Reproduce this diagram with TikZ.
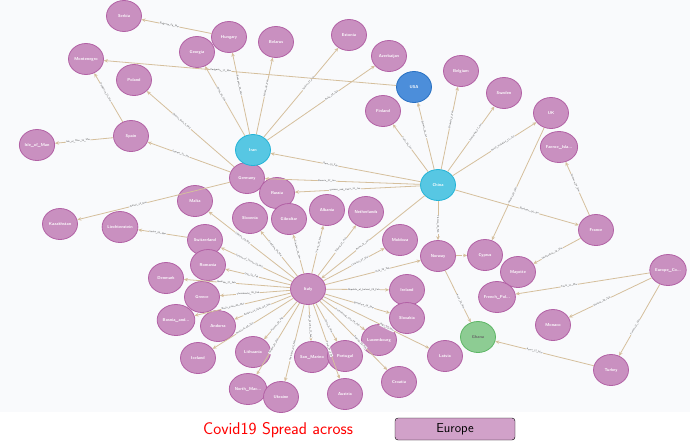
\documentclass[tikz,border=0pt]{standalone}
\usepackage{tikz}
\usetikzlibrary{shapes.geometric, arrows.meta}
\definecolor{cpink}{HTML}{C990C0}
\definecolor{cpinkb}{HTML}{B261A5}
\definecolor{ccyan}{HTML}{57C7E3}
\definecolor{ccyanb}{HTML}{23B3D7}
\definecolor{cblue}{HTML}{4C8EDA}
\definecolor{cblueb}{HTML}{2870C2}
\definecolor{cgreen}{HTML}{8DCC93}
\definecolor{cgreenb}{HTML}{5DB665}
\definecolor{cedge}{HTML}{D5BF9C}
\definecolor{cbg}{HTML}{F9FAFC}
\newcommand{\cut}{.\kern0pt.\kern0pt.}
\tikzset{
  country/.style={ellipse, draw=cpinkb, fill=cpink, line width=0.8pt, minimum width=35pt, minimum height=31pt, inner sep=0pt, text=white, font=\sffamily\bfseries\fontsize{4.2}{5}\selectfont},
  hub/.style={country, draw=ccyanb, fill=ccyan},
  usa/.style={country, draw=cblueb, fill=cblue},
  ghana/.style={country, draw=cgreenb, fill=cgreen, text=black!60},
  spread/.style={draw=cedge, line width=0.8pt, -{Stealth[length=4pt,width=3.5pt]}},
  elabel/.style={sloped, pos=0.6, fill=cbg, inner sep=0.4pt, text=black!70, font=\sffamily\fontsize{2.4}{3}\selectfont},
}
\begin{document}
\begin{tikzpicture}[x=1pt, y=-1pt]
  \fill[cbg] (0,0) rectangle (690,412);
  \fill[white] (0,412) rectangle (690,445);
  \useasboundingbox (0,0) rectangle (690,445);
  % countries
  \foreach \n/\x/\y/\t in {Serbia/124/16/Serbia, Hungary/229/37/Hungary, Belarus/276/42/Belarus,
      Estonia/349/35/Estonia, Azerbaijan/389/56/Azerbaijan, Georgia/197/52/Georgia,
      Montenegro/86/59/Montenegro, Poland/134/80/Poland, Spain/131/136/Spain,
      IsleofMan/37/145/Isle\_of\_Man, Germany/247/178/Germany, Russia/277/193/Russia,
      Malta/195/201/Malta, Belgium/461/71/Belgium, Sweden/504/93/Sweden, Finland/383/111/Finland,
      UK/551/113/UK, Faeroe/559/147/Faeroe\_Isla\cut, France/596/230/France, Cyprus/485/255/Cyprus,
      Mayotte/518/272/Mayotte, Norway/438/256/Norway, EuropeCo/668/270/Europe\_Co\cut,
      FrenchPol/497/297/French\_Pol\cut, Monaco/553/325/Monaco, Turkey/611/370/Turkey,
      Kazakhstan/60/224/Kazakhstan, Liechtenstein/120/227/Liechtenstein, Switzerland/205/240/Switzerland,
      Slovenia/250/218/Slovenia, Gibraltar/289/219/Gibraltar, Albania/327/210/Albania,
      Netherlands/366/212/Netherlands, Moldova/400/240/Moldova, Romania/208/265/Romania,
      Denmark/166/278/Denmark, Greece/202/297/Greece, Bosnia/176/320/Bosnia\_and\cut,
      Andorra/218/326/Andorra, Iceland/198/358/Iceland, Lithuania/253/352/Lithuania,
      SanMarino/312/357/San\_Marino, Portugal/345/356/Portugal, Luxembourg/379/340/Luxembourg,
      Croatia/399/382/Croatia, Latvia/445/356/Latvia, Ireland/407/290/Ireland,
      Slovakia/407/318/Slovakia, NorthMac/248/389/North\_Mac\cut, Ukraine/281/397/Ukraine,
      Austria/345/394/Austria, Italy/308/289/Italy}
    \node[country] (\n) at (\x,\y) {\t};
  \node[hub] (Iran) at (253,150) {Iran};
  \node[hub] (China) at (438,185) {China};
  \node[usa] (USA) at (414,87) {USA};
  \node[ghana] (Ghana) at (478,337) {Ghana};
  % spread
  \foreach \a/\b/\l in {Hungary/Serbia/Belgrade\_06\_Mar, Iran/Georgia/Tbilisi\_26\_Feb,
      Iran/Hungary/Budapest\_04\_Mar, Iran/Belarus/Minsk\_28\_Feb, Iran/Estonia/Tallinn\_27\_Feb,
      Iran/Azerbaijan/Baku\_28\_Feb, USA/Montenegro/Podgorica\_17\_Mar,
      Germany/Poland/Zielona\_Gora\_4\_Mar, Germany/Spain/Gomera\_31\_Jan,
      Spain/Montenegro/Podgorica\_17\_Mar, Spain/IsleofMan/Isle\_of\_Man\_19\_Mar,
      China/Iran/Qom\_19\_Feb, China/Germany/Bavaria\_27\_Jan, China/Russia/Tyumen\_and\_Chita\_31\_Jan,
      Germany/Kazakhstan/Almaty\_13\_Mar, China/USA/Everett\_20\_Jan, China/Belgium/Brussels\_4\_Feb,
      China/Sweden/Jonkoping\_31\_Jan, China/Finland/Ivalo\_29\_Jan, China/UK/North\_Yorkshire\_31\_Jan,
      UK/Cyprus/Nicosia\_09\_Mar, China/France/Bordeaux\_24\_Jan, France/Faeroe/Torshavn\_04\_Mar,
      France/Mayotte/Mamoudzou\_14\_Mar, China/Norway/Tromso\_26\_Feb, Norway/Cyprus/{},
      Norway/Ghana/Accra\_12\_Mar, Turkey/Ghana/Accra\_12\_Mar, EuropeCo/FrenchPol/Tahiti\_11\_Mar,
      EuropeCo/Monaco/Monaco\_29\_Feb, EuropeCo/Turkey/Turkey\_11\_Mar, China/Italy/Rome\_31\_Jan,
      Switzerland/Liechtenstein/Vaduz\_03\_Mar, Italy/Malta/Valletta\_07\_Mar,
      Italy/Slovenia/Ljubljana\_04\_Mar, Italy/Gibraltar/Gibraltar\_04\_Mar, Italy/Albania/Tirana\_09\_Mar,
      Italy/Netherlands/Tilburg\_27\_Feb, Italy/Moldova/Chisinau\_07\_Mar,
      Italy/Switzerland/Canton\_of\_Ticino\_25\_Feb, Italy/Romania/Gorj\_26\_Feb,
      Italy/Denmark/Roskilde\_27\_Feb, Italy/Greece/Thessaloniki\_26\_Feb, Italy/Bosnia/Banja\_Luka\_05\_Mar,
      Italy/Andorra/Andorra\_la\_Vella\_02\_Mar, Italy/Iceland/Reykjavik\_28\_Feb,
      Italy/Lithuania/Kaunas\_28\_Feb, Italy/NorthMac/Skopje\_26\_Feb, Italy/Ukraine/Chernivtsi\_03\_Mar,
      Italy/SanMarino/San\_Marino\_27\_Feb, Italy/Portugal/Porto\_2\_Mar, Italy/Austria/Tyrol\_25\_Feb,
      Italy/Croatia/Zagreb\_25\_Feb, Italy/Luxembourg/Luxembourg\_City\_29\_Feb,
      Italy/Slovakia/Bratislava\_06\_Mar, Italy/Ireland/Republic\_of\_Ireland\_29\_Feb,
      Italy/Latvia/Riga\_02\_Mar, Italy/Norway/Oslo\_26\_Feb}
    \draw[spread] (\a) -- node[elabel] {\l} (\b);
  % legend
  \node[text=red, font=\sffamily\fontsize{17}{20}\selectfont] (title) at (278,430) {Covid19 Spread across};
  \node[draw=black, fill=cpink!85, rounded corners=3pt, minimum width=120pt, minimum height=22pt,
    font=\sffamily\fontsize{13}{15}\selectfont] (legend) at (455,429) {Europe};
\end{tikzpicture}
\end{document}
